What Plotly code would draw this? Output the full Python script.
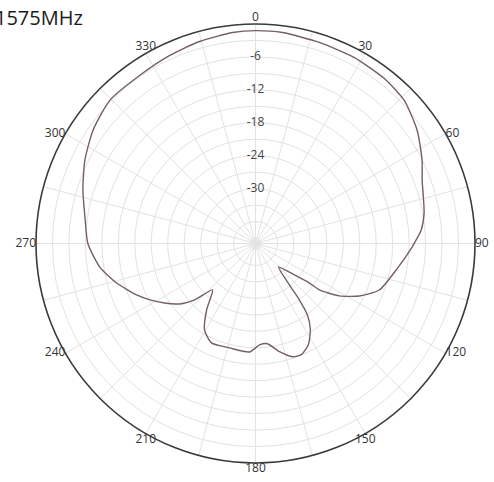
import plotly.graph_objects as go

# Measured radiation pattern (angle in degrees, clockwise from top; gain in dB)
angles_deg = [0.0, 7.3, 17.6, 28.0, 37.9, 46.1, 55.0, 63.4, 69.2, 79.8, 85.4, 90.0, 91.3,
              100.6, 110.6, 116.8, 122.0, 126.0, 126.2, 128.9, 135.6, 140.7, 142.1, 144.0,
              147.5, 152.4, 157.6, 161.9, 167.5, 173.2, 177.7, 183.2, 194.0, 203.9, 210.5,
              216.4, 222.8, 227.2, 231.5, 236.8, 241.9, 246.6, 254.1, 261.4, 270.0, 278.8,
              287.2, 296.0, 304.9, 314.5, 325.5, 335.5, 344.5, 353.8, 360.0]
gain_db = [-1.2, -1.24, -1.56, -1.62, -1.85, -2.38, -4.04, -6.05, -7.51, -8.78, -9.72, -11.09, -11.45,
           -13.9, -15.9, -18.8, -22.0, -25.6, -27.8, -30.9, -34.0, -30.2, -27.0, -23.9,
           -21.4, -19.2, -18.1, -18.3, -19.8, -21.6, -21.5, -20.2, -20.4, -20.2, -21.7,
           -25.0, -28.5, -24.9, -22.3, -20.2, -18.2, -16.4, -13.7, -11.3, -9.45, -8.55,
           -7.07, -5.4, -3.9, -2.78, -2.8, -2.33, -1.8, -1.33, -1.2]

radial_grid = [-39, -36, -33, -30, -27, -24, -21, -18, -15, -12, -9, -6, -3]
radial_labels = [-30, -24, -18, -12, -6]
angle_grid = list(range(0, 360, 15))
angle_labels = list(range(0, 360, 30))
angle_label_pos = ["top center", "top center", "middle right", "middle right", "middle right",
                   "bottom center", "bottom center", "bottom center", "middle left",
                   "middle left", "middle left", "top center"]

W, H = 494, 482
R_MIN, R_MAX = -40, 0

fig = go.Figure()
fig.add_trace(go.Scatterpolar(
    r=gain_db, theta=angles_deg, mode="lines",
    line=dict(color="#735f66", width=1.4, shape="spline", smoothing=0.6),
    hoverinfo="skip", showlegend=False))
fig.add_trace(go.Scatterpolar(
    r=radial_labels, theta=[0] * len(radial_labels), mode="text",
    text=[str(v) for v in radial_labels],
    textfont=dict(family="Open Sans, Arial, sans-serif", size=12, color="#444444"),
    hoverinfo="skip", showlegend=False))
fig.add_trace(go.Scatterpolar(
    r=[R_MAX] * len(angle_labels), theta=angle_labels, mode="text",
    text=[str(a) for a in angle_labels], textposition=angle_label_pos,
    cliponaxis=False,
    textfont=dict(family="Open Sans, Arial, sans-serif", size=12, color="#333333"),
    hoverinfo="skip", showlegend=False))

fig.update_layout(
    width=W, height=H,
    margin=dict(l=0, r=0, t=0, b=0, autoexpand=False),
    paper_bgcolor="white",
    showlegend=False,
    polar=dict(
        domain=dict(x=[36 / W, 475 / W], y=[19 / H, 458 / H]),
        bgcolor="white",
        radialaxis=dict(range=[R_MIN, R_MAX], tickvals=radial_grid, showticklabels=False,
                        gridcolor="#e2e2e2", gridwidth=1, showline=False, ticks="",
                        angle=90),
        angularaxis=dict(rotation=90, direction="clockwise", tickvals=angle_grid,
                         showticklabels=False, gridcolor="#e2e2e2", gridwidth=1,
                         showline=True, linecolor="#3a3a3a", linewidth=1.6, ticks=""),
    ),
    annotations=[dict(text="1575MHz", xref="paper", yref="paper", x=0, y=1.0,
                      xshift=-7, yshift=-2,
                      xanchor="left", yanchor="top", showarrow=False,
                      font=dict(family="Open Sans, Arial, sans-serif", size=20,
                                color="#1a1a1a"))],
)

fig.write_html("out.html",
               config={"displayModeBar": False},
               post_script="document.body.style.margin='0px';"
                           "document.body.style.overflow='hidden';")
